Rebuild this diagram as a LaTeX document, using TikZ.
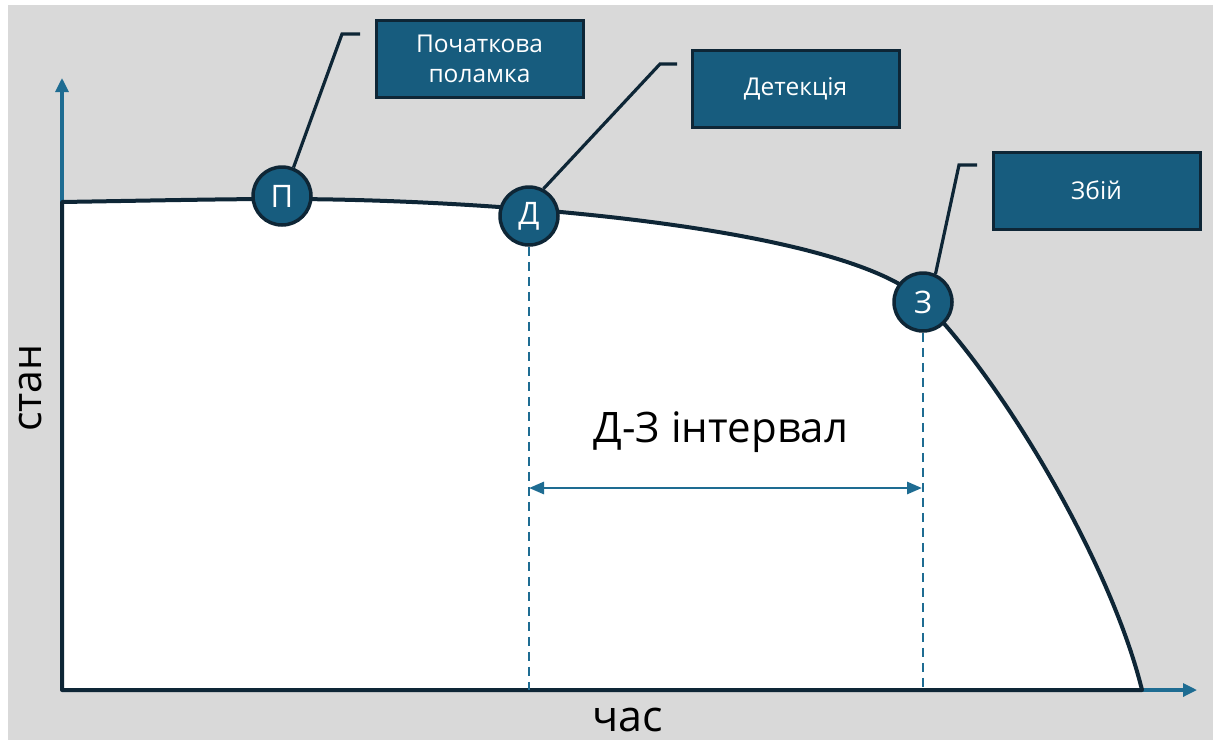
\documentclass[tikz,border=0pt]{standalone}
\usepackage{fontspec}
\setmainfont{Open Sans}
\usetikzlibrary{arrows.meta}
\definecolor{bg}{RGB}{217,217,217}
\definecolor{boxblue}{RGB}{23,92,126}
\definecolor{navy}{RGB}{14,38,54}
\definecolor{axblue}{RGB}{30,108,146}
\tikzset{
  circ/.style={circle, fill=boxblue, draw=navy, line width=3.5pt, minimum size=58pt, inner sep=0pt, text=white, font=\fontsize{31}{31}\selectfont},
  labelbox/.style={rectangle, fill=boxblue, draw=navy, line width=3pt, minimum width=207pt, minimum height=77pt, inner sep=0pt, text=white, align=center, font=\fontsize{24.5}{30}\selectfont},
  leader/.style={draw=navy, line width=3.2pt},
  axis/.style={draw=axblue, line width=3.2pt, -{Triangle[length=14pt,width=13pt]}},
  guide/.style={draw=axblue, line width=2.2pt, dash pattern=on 9pt off 6pt},
  span/.style={draw=axblue, line width=2.8pt, {Triangle[length=15pt,width=12pt]}-{Triangle[length=15pt,width=12pt]}},
  bigtext/.style={font=\fontsize{42}{42}\selectfont, text=black, inner sep=0pt}
}
\begin{document}
\begin{tikzpicture}[x=1pt,y=-1pt]
\useasboundingbox (0,0) rectangle (1213,740);
\fill[white] (0,0) rectangle (1213,740);
\fill[bg] (8,5) rectangle (1213,740);

\coordinate (O) at (62,690);
\coordinate (Ytop) at (62,202);
\coordinate (Ytip) at (62,78);
\coordinate (Xend) at (1142,690);
\coordinate (Xtip) at (1197,690);
\coordinate (Pc) at (282,199);
\coordinate (Zc) at (924,302);

\draw[axis] (Ytop) -- (Ytip);
\draw[axis] (Xend) -- (Xtip);

\filldraw[fill=white, draw=navy, line width=4pt, line join=round]
  (O) -- (Ytop) .. controls (180,200) and (230,199) .. (Pc)
  .. controls (500,199) and (850,228) .. (Zc)
  .. controls (1000,378) and (1110,560) .. (Xend) -- cycle;

\node[circ] (P) at (282,196) {П};
\node[circ] (D) at (529,216) {Д};
\node[circ] (Z) at (923,302) {З};

\node[labelbox] (BP) at (479.5,58.5) {Початкова\\поламка};
\node[labelbox] (BD) at (795.5,88.5) {Детекція};
\node[labelbox] (BZ) at (1096.5,190.5) {Збій};

\coordinate (eP) at (342,34);
\coordinate (fP) at (360,34);
\coordinate (eD) at (660,64);
\coordinate (fD) at (677,64);
\coordinate (eZ) at (959,165);
\coordinate (fZ) at (977,165);
\draw[leader] (P.68) -- (eP) -- (fP);
\draw[leader] (D.62) -- (eD) -- (fD);
\draw[leader] (Z.66) -- (eZ) -- (fZ);

\coordinate (gD) at (529,690);
\coordinate (gZ) at (923,690);
\draw[guide] (D.south) -- (gD);
\draw[guide] (Z.south) -- (gZ);

\coordinate (aL) at (529,488);
\coordinate (aR) at (922,488);
\draw[span] (aL) -- (aR);

\node[bigtext] (T) at (721,432) {Д-З інтервал};
\node[bigtext, rotate=90, font=\fontsize{41}{41}\selectfont] (S) at (31,388) {стан};
\node[bigtext, anchor=base, font=\fontsize{43}{43}\selectfont] (C) at (628,731) {час};
\end{tikzpicture}
\end{document}
